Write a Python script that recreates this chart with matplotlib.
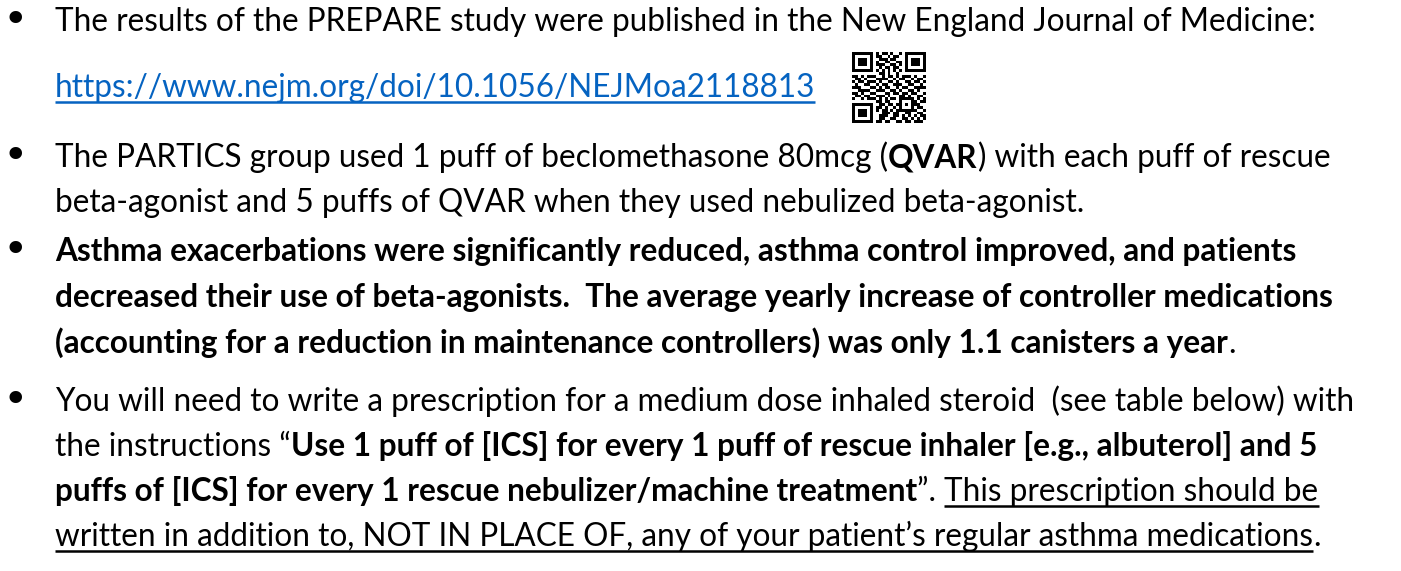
import numpy as np
import matplotlib
matplotlib.use('Agg')
from matplotlib import pyplot as plt

# text runs per bullet: (text, style) with n=normal, b=bold, l=link, u=underline
bullet1_lines = [
    [("The results of the PREPARE study were published in the New England Journal of Medicine:", "n")],
    [("https://www.nejm.org/doi/10.1056/NEJMoa2118813", "l")],
]
bullet2_lines = [
    [("The PARTICS group used 1 puff of beclomethasone 80mcg (", "n"), ("QVAR", "b"),
     (") with each puff of rescue", "n")],
    [("beta-agonist and 5 puffs of QVAR when they used nebulized beta-agonist.", "n")],
]
bullet3_lines = [
    [("Asthma exacerbations were significantly reduced, asthma control improved, and patients", "b")],
    [("decreased their use of beta-agonists.  The average yearly increase of controller medications", "b")],
    [("(accounting for a reduction in maintenance controllers) was only 1.1 canisters a year", "b"), (".", "n")],
]
bullet4_lines = [
    [("You will need to write a prescription for a medium dose inhaled steroid  (see table below) with", "n")],
    [("the instructions \u201c", "n"),
     ("Use 1 puff of [ICS] for every 1 puff of rescue inhaler [e.g., albuterol] and 5", "b")],
    [("puffs of [ICS] for every 1 rescue nebulizer/machine treatment", "b"), ("\u201d. ", "n"),
     ("This prescription should be", "u")],
    [("written in addition to, NOT IN PLACE OF, any of your patient\u2019s regular asthma medications", "u"),
     (".", "n")],
]
bullets = [bullet1_lines, bullet2_lines, bullet3_lines, bullet4_lines]

# QR code modules (1 = dark), typed in by hand
qr_rows = [
    "1111111010110100101111111",
    "1000001011001011001000001",
    "1011101001110110001011101",
    "1011101010011001101011101",
    "1011101011100110101011101",
    "1000001001011011001000001",
    "1111111010101010101111111",
    "0000000001101001000000000",
    "1101011100101101011101001",
    "0110100011110010110010110",
    "1011011101001101001101101",
    "0100110010110011100110010",
    "1110001101011001011001111",
    "0011110011100110100110100",
    "1101001100011011011011001",
    "0110110011101000110100110",
    "1001011101010110111110101",
    "0000000011011000100011011",
    "1111111001101101101011100",
    "1000001011010010100010110",
    "1011101010110101111111001",
    "1011101000111011001100110",
    "1011101001110011010101011",
    "1000001001100110011010101",
    "1111111011011001101101110",
]

# layout
W, H = 1401, 571
FONT = ['Lato', 'DejaVu Sans']
FS = 22.7
LINK = '#0563C1'
text_x = 55
bullet_x = 15
baselines = [31, 97, 167, 212, 261, 307, 353, 411, 456, 501, 546]
qr_box = (852, 926, 123, 52)

fig = plt.figure(figsize=(W / 100, H / 100), dpi=100)
ax = fig.add_axes([0, 0, 1, 1])
ax.set_xlim(0, W)
ax.set_ylim(H, 0)
ax.axis('off')
renderer = fig.canvas.get_renderer()


def advance(txt, weight):
    # width of a run including trailing spaces
    t = ax.text(0, 0, txt + '|', fontsize=FS, fontweight=weight, family=FONT)
    w1 = t.get_window_extent(renderer).width
    t.set_text('|')
    w2 = t.get_window_extent(renderer).width
    t.remove()
    return w1 - w2


def draw_runs(y, runs):
    x = text_x
    for txt, style in runs:
        weight = 'bold' if style == 'b' else 'normal'
        color = LINK if style == 'l' else 'black'
        ax.text(x, y, txt, fontsize=FS, fontweight=weight, color=color,
                family=FONT, va='baseline', ha='left')
        w = advance(txt, weight)
        if style in ('l', 'u'):
            ax.plot([x, x + w], [y + 5, y + 5], color=color, lw=1.8,
                    solid_capstyle='butt')
        x += w


i = 0
for lines in bullets:
    ax.text(bullet_x, baselines[i] + 2, '\u2022', fontsize=31, family=['DejaVu Sans'],
            va='baseline', ha='center', color='black')
    for runs in lines:
        draw_runs(baselines[i], runs)
        i += 1

n = max(len(r) for r in qr_rows)
qr = np.array([[int(c) for c in r.ljust(n, '0')[:n]] for r in qr_rows])
ax.imshow(qr, cmap='gray_r', interpolation='nearest', extent=qr_box, aspect='auto')
ax.set_xlim(0, W)
ax.set_ylim(H, 0)

fig.savefig('out.png', dpi=100, facecolor='white')
